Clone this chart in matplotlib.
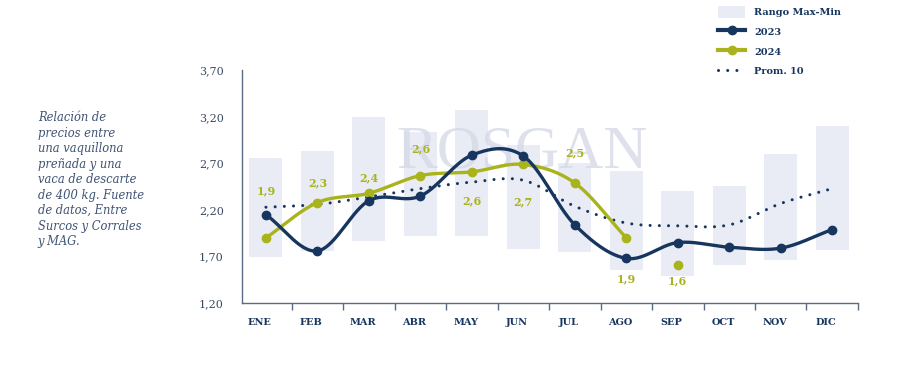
import numpy as np
import matplotlib
matplotlib.use("Agg")
import matplotlib.pyplot as plt
from matplotlib.lines import Line2D
from matplotlib.patches import Patch

months = ["ENE", "FEB", "MAR", "ABR", "MAY", "JUN", "JUL", "AGO", "SEP", "OCT", "NOV", "DIC"]
rango_max = [2.76, 2.83, 3.20, 3.04, 3.27, 2.90, 2.71, 2.62, 2.40, 2.46, 2.80, 3.10]
rango_min = [1.70, 1.76, 1.87, 1.92, 1.92, 1.78, 1.75, 1.55, 1.49, 1.61, 1.66, 1.77]
s2023 = [2.15, 1.76, 2.30, 2.35, 2.79, 2.78, 2.04, 1.68, 1.85, 1.80, 1.79, 1.99]
s2024 = [1.90, 2.28, 2.38, 2.57, 2.61, 2.69, 2.49, 1.90]
s2024_sep = 1.61
prom10 = [2.23, 2.26, 2.34, 2.43, 2.50, 2.52, 2.24, 2.06, 2.03, 2.04, 2.27, 2.43]
labels_2024 = ["1,9", "2,3", "2,4", "2,6", "2,6", "2,7", "2,5", "1,9", "1,6"]
label_offsets_px = [47, 20, 15, 27, -29, -37, 30, -41, -16]

NAVY = "#17365f"
OLIVE = "#a9b31c"
BAR = "#e9ecf4"
TXT = "#3b4a63"

def smooth(x, y, n=30):
    x = np.asarray(x, float); y = np.asarray(y, float)
    px = np.concatenate([[2 * x[0] - x[1]], x, [2 * x[-1] - x[-2]]])
    py = np.concatenate([[2 * y[0] - y[1]], y, [2 * y[-1] - y[-2]]])
    xs, ys = [], []
    for i in range(1, len(px) - 2):
        t = np.linspace(0, 1, n, endpoint=(i == len(px) - 3))
        f = lambda a0, a1, a2, a3: 0.5 * ((2 * a1) + (-a0 + a2) * t + (2 * a0 - 5 * a1 + 4 * a2 - a3) * t ** 2 + (-a0 + 3 * a1 - 3 * a2 + a3) * t ** 3)
        xs.append(f(px[i - 1], px[i], px[i + 1], px[i + 2]))
        ys.append(f(py[i - 1], py[i], py[i + 1], py[i + 2]))
    return np.concatenate(xs), np.concatenate(ys)

fig = plt.figure(figsize=(9, 3.81), dpi=100)
ax = fig.add_axes([0.2686, 0.2047, 0.6847, 0.6103])

x = np.arange(len(months))
lo = np.array(rango_min); hi = np.array(rango_max)
ax.bar(x, hi - lo, bottom=lo, width=0.64, color=BAR, zorder=1)

# watermark
ax.text(0.455, 0.645, "ROSGAN", transform=ax.transAxes, ha="center", va="center",
        fontsize=44, family="Liberation Serif", color="#d3d8e6", alpha=0.75, zorder=2)

DOT = (0, (0.01, 3.0))
sx, sy = smooth(x, prom10)
ax.plot(sx, sy, color=NAVY, lw=2.2, linestyle=DOT, dash_capstyle="round", zorder=3)

sx, sy = smooth(x[:len(s2024)], s2024)
ax.plot(sx, sy, color=OLIVE, lw=2.4, zorder=4)
ax.plot(x[:len(s2024)], s2024, "o", color=OLIVE, ms=6, zorder=4)
ax.plot([8], [s2024_sep], "o", color=OLIVE, ms=6, zorder=4)

sx, sy = smooth(x, s2023)
ax.plot(sx, sy, color=NAVY, lw=2.4, zorder=5)
ax.plot(x, s2023, "o", color=NAVY, ms=6, zorder=5)

vals24 = s2024 + [s2024_sep]
for i, (lab, off) in enumerate(zip(labels_2024, label_offsets_px)):
    ax.annotate(lab, (x[i], vals24[i]), xytext=(0, off * 0.72), textcoords="offset points",
                ha="center", va="center", fontsize=8, fontweight="bold",
                family="DejaVu Serif", color=OLIVE, zorder=6)

ax.set_xlim(-0.47, 11.47)
ax.set_ylim(1.2, 3.7)
yt = [1.2, 1.7, 2.2, 2.7, 3.2, 3.7]
ax.set_yticks(yt)
ax.set_yticklabels([f"{v:.2f}".replace(".", ",") for v in yt], fontsize=8,
                   family="DejaVu Serif", color=TXT)
ax.tick_params(axis="y", length=0, pad=13)
ax.set_xticks(np.arange(0.5, 11.6, 1.0))
ax.set_xticklabels([])
ax.tick_params(axis="x", length=5, width=1, color="#5b6b85", direction="out")
for i, m in enumerate(months):
    ax.text(x[i] - 0.12, -0.085, m, transform=ax.get_xaxis_transform(), ha="center", va="center",
            fontsize=7, fontweight="bold", family="DejaVu Serif", color=NAVY)
for s in ["top", "right"]:
    ax.spines[s].set_visible(False)
for s in ["left", "bottom"]:
    ax.spines[s].set_color("#5b6b85")
    ax.spines[s].set_linewidth(1)

handles = [
    Patch(facecolor=BAR, edgecolor="none", label="Rango Max-Min"),
    Line2D([0], [0], color=NAVY, lw=3, marker="o", ms=6, label="2023"),
    Line2D([0], [0], color=OLIVE, lw=3, marker="o", ms=6, label="2024"),
    Line2D([0], [0], color=NAVY, lw=2.2, linestyle=DOT, dash_capstyle="round", label="Prom. 10"),
]
leg = fig.legend(handles=handles, loc="upper left", bbox_to_anchor=(0.788, 1.008), frameon=False,
                 prop={"family": "DejaVu Serif", "size": 7, "weight": "bold"},
                 handlelength=2.8, handleheight=1.6, labelspacing=0.75, handletextpad=0.9)
for t in leg.get_texts():
    t.set_color(NAVY)

desc = ("Relación de\nprecios entre\nuna vaquillona\npreñada y una\nvaca de descarte\n"
        "de 400 kg. Fuente\nde datos, Entre\nSurcos y Corrales\ny MAG.")
fig.text(0.042, 0.708, desc, ha="left", va="top", fontsize=8.3, style="italic",
         family="DejaVu Serif", color="#3f5373", linespacing=1.25)

fig.savefig("out.png", dpi=100, facecolor="white")
